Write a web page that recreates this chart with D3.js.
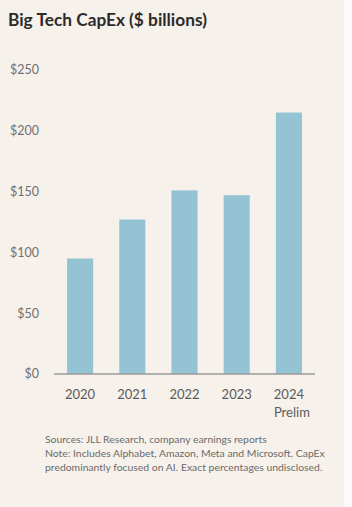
<!DOCTYPE html>
<html>
<head>
<meta charset="utf-8">
<script src="https://cdnjs.cloudflare.com/ajax/libs/d3/7.8.5/d3.min.js"></script>
<style>
  body { margin: 0; background: #fcfbfa; }
  svg { display: block; }
  text { font-family: "Source Sans Pro", Lato, "Noto Sans", sans-serif; }
</style>
</head>
<body>
<div id="chart"></div>
<script>
const years = ["2020", "2021", "2022", "2023", "2024"];
const capex = [95, 127, 151, 147, 215];
const yTicks = [0, 50, 100, 150, 200, 250];
const notes = [
  "Sources: JLL Research, company earnings reports",
  "Note: Includes Alphabet, Amazon, Meta and Microsoft. CapEx",
  "predominantly focused on AI. Exact percentages undisclosed."
];

drawChart();

function drawChart() {
  const width = 352, height = 507;
  const svg = d3.select("#chart")
    .append("svg")
    .attr("width", width)
    .attr("height", height);

  // beige card
  svg.append("rect")
    .attr("x", 0).attr("y", 0)
    .attr("width", 344).attr("height", height)
    .attr("fill", "#f7f1eb");

  svg.append("text")
    .attr("x", 8)
    .attr("y", 26)
    .attr("font-size", 17.3)
    .attr("font-weight", 700)
    .attr("fill", "#2b2b2b")
    .text("Big Tech CapEx ($ billions)");

  const x = d3.scaleBand()
    .domain(years)
    .range([54, 315])
    .paddingInner(0.5)
    .paddingOuter(0.25);

  const y = d3.scaleLinear()
    .domain([0, 250])
    .range([374, 70]);

  // y labels
  svg.selectAll(".ylab")
    .data(yTicks)
    .enter().append("text")
    .attr("class", "ylab")
    .attr("x", 39)
    .attr("y", d => y(d))
    .attr("dy", "0.35em")
    .attr("text-anchor", "end")
    .attr("font-size", 12.5)
    .attr("fill", "#707070")
    .text(d => "$" + d);

  svg.selectAll(".bar")
    .data(capex)
    .enter().append("rect")
    .attr("class", "bar")
    .attr("x", (d, i) => x(years[i]))
    .attr("y", d => y(d))
    .attr("width", x.bandwidth())
    .attr("height", d => y(0) - y(d))
    .attr("fill", "#94c3d4");

  svg.append("line")
    .attr("x1", 54).attr("x2", 315)
    .attr("y1", y(0)).attr("y2", y(0))
    .attr("stroke", "#9a9a9a")
    .attr("stroke-width", 1.5);

  const xl = svg.selectAll(".xlab")
    .data(years)
    .enter().append("text")
    .attr("class", "xlab")
    .attr("x", d => x(d) + x.bandwidth() / 2)
    .attr("y", 399)
    .attr("text-anchor", "middle")
    .attr("font-size", 13)
    .attr("fill", "#5a5a5a");
  xl.append("tspan").text(d => d);
  xl.filter(d => d === "2024").append("tspan")
    .attr("x", d => x(d) + x.bandwidth() / 2 + 3)
    .attr("dy", 18)
    .text("Prelim");

  svg.selectAll(".note")
    .data(notes)
    .enter().append("text")
    .attr("class", "note")
    .attr("x", 45)
    .attr("y", (d, i) => 442.5 + i * 14)
    .attr("font-size", 10.4)
    .attr("fill", "#6a6a6a")
    .text(d => d);
}
</script>
</body>
</html>
